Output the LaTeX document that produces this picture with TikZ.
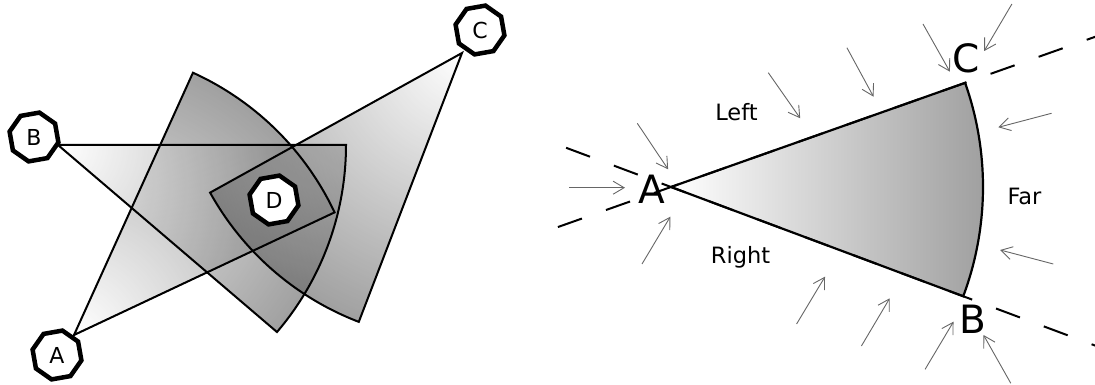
\documentclass[tikz,border=0pt]{standalone}
\usepackage{fontspec}
\setmainfont{DejaVu Sans}
\usetikzlibrary{shapes.geometric,arrows.meta,calc}
\begin{document}
\begin{tikzpicture}[x=1pt,y=1pt,
  oct/.style={regular polygon, regular polygon sides=8, shape border rotate=10, draw=black, line width=4.5pt, fill=white, minimum size=50pt, inner sep=0pt, font=\fontsize{22}{26}\selectfont},
  sectoredge/.style={draw=black, line width=2pt, line join=miter},
  flow/.style={draw=black!60, line width=0.9pt, -{Straight Barb[length=11pt,width=13pt]}},
  lbl/.style={font=\fontsize{22.5}{27}\selectfont, anchor=base, inner sep=0pt},
  big/.style={font=\fontsize{39}{45}\selectfont, anchor=base, inner sep=0pt},
  ext/.style={draw=black, line width=2pt, dash pattern=on 25.5pt off 25.5pt}
]
\useasboundingbox (0,0) rectangle (1095,385);

% ---------- left figure ----------
\coordinate (vA) at (74,50);
\coordinate (vB) at (58,240);
\coordinate (vC) at (462,332);

\newcommand\secfill[3]{%
  \begin{scope}
    \clip (#1) -- ++(#2:288) arc[start angle=#2, end angle=#3, radius=288] -- cycle;
    \shade[inner color=white, outer color=black!60, fill opacity=0.62] (#1) circle (288);
  \end{scope}}
\newcommand\secline[3]{%
  \draw[sectoredge] (#1) -- ++(#2:288) arc[start angle=#2, end angle=#3, radius=288] -- cycle;}

\secfill{vA}{25.2}{65.6}
\secfill{vB}{-40.5}{0}
\secfill{vC}{209}{249}
\secline{vA}{25.2}{65.6}
\secline{vB}{-40.5}{0}
\secline{vC}{209}{249}

\node[oct] (A) at (57,30) {A};
\node[oct] (B) at (34,248) {B};
\node[oct] (C) at (480,355) {C};
\node[oct] (D) at (274,185) {D};

% ---------- right figure ----------
\coordinate (RA) at (671,198);
\shade[left color=white, right color=black!38] (RA) -- ++(19.5:312) arc[start angle=19.5, end angle=-20.5, radius=312] -- cycle;
\draw[sectoredge, line width=2.2pt] (RA) -- ++(19.5:312) arc[start angle=19.5, end angle=-20.5, radius=312] -- cycle;

\begin{scope}
  \clip (0,0) rectangle (1095,385);
  \draw[ext] ($(RA)+(159.5:112)$) -- ($(RA)+(-20.5:480)$);
  \draw[ext] ($(RA)+(199.5:120)$) -- ($(RA)+(19.5:480)$);
\end{scope}

\node[big] (lA) at (652,181.7) {A};
\node[big] (lC) at (966.5,312) {C};
\node[big] (lB) at (973,51) {B};
\node[lbl] (lLeft) at (736.5,264.3) {Left};
\node[lbl] (lRight) at (740.5,121) {Right};
\node[lbl] (lFar) at (1024.5,180) {Far};

\draw[flow] (796.6,61) -- (825,108.3);
\draw[flow] (861.4,39) -- (889.7,86.7);
\draw[flow] (925.1,15.7) -- (953.5,63.3);
\draw[flow] (1010.8,1.7) -- (983.5,50);
\draw[flow] (1053.3,121) -- (1000.2,135);
\draw[flow] (1051.5,271.7) -- (998.4,257.7);
\draw[flow] (1011.9,381) -- (984.2,334);
\draw[flow] (923,361) -- (949.9,313.3);
\draw[flow] (846.9,337.3) -- (873.5,288.3);
\draw[flow] (768.3,312.3) -- (800.2,266.7);
\draw[flow] (637.3,261.7) -- (668.1,215.7);
\draw[flow] (569,197.3) -- (625,197.3);
\draw[flow] (642,121) -- (670.3,168.3);
\end{tikzpicture}
\end{document}
